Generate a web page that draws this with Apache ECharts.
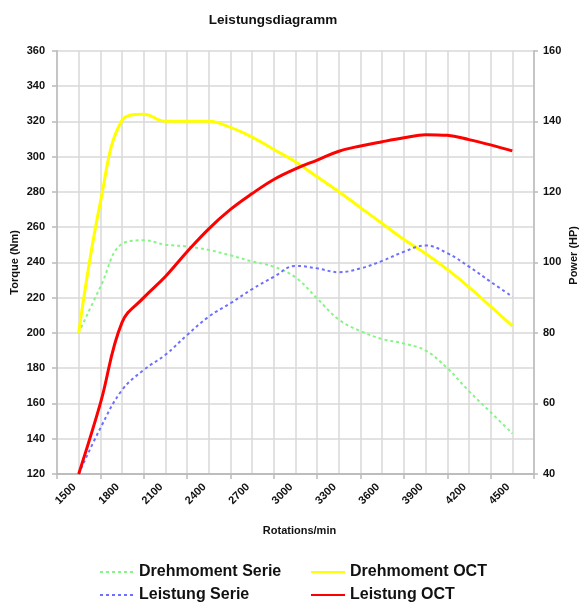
<!DOCTYPE html>
<html>
<head>
<meta charset="utf-8">
<script src="https://cdn.jsdelivr.net/npm/echarts@6/dist/echarts.min.js"></script>
<style>html,body{margin:0;padding:0;background:#fff}#c{width:579px;height:605px}</style>
</head>
<body>
<div id="c"></div>
<script>
var rpm = [1500,1650,1800,1950,2100,2250,2400,2550,2700,2850,3000,3150,3300,3450,3600,3750,3900,4050,4200,4350,4500];
var torqueSerie = [200,226,250.5,252.5,250,249,247,244,240.5,237.5,231.5,219.5,207.5,201,196.5,194,190,180,167,155,143];
var torqueOct   = [200,274,320.5,324,320,320,320,316.5,311,304,297,288.5,280,271,262,253,245,236,226,215,204];
var powerSerie  = [40,53,63.8,69.5,73.8,79.4,84.6,88.4,92.4,95.9,99,98.3,97.2,98.3,100.4,103,104.8,102.6,98.8,94.5,90.3];
var powerOct    = [40,60,83,90,96,103,109.5,115,119.5,123.5,126.5,129,131.5,133,134.2,135.3,136.2,136,134.8,133.3,131.6];
var xTickLabels = [1500,1800,2100,2400,2700,3000,3300,3600,3900,4200,4500];
var torqueTicks = {min:120, max:360, step:20};
var powerTicks  = {min:40, max:160, step:20};

function pairs(xs, ys){ return xs.map(function(x,i){ return [x, ys[i]]; }); }

var font = '"Liberation Sans", Arial, sans-serif';
var gridColor = '#d9d9d9';
var legendBase = {orient:'vertical', top:564, padding:0, height:41,
  itemWidth:34, itemHeight:16, itemGap:7,
  itemStyle:{opacity:0},
  textStyle:{fontFamily:font, fontSize:16, lineHeight:16, fontWeight:'bold', color:'#111'}};
var chart = echarts.init(document.getElementById('c'), null, {renderer:'canvas'});
chart.setOption({
  animation:false,
  backgroundColor:'#ffffff',
  title:{text:'Leistungsdiagramm', left:268, top:8, textAlign:'center',
    textStyle:{fontFamily:font, fontSize:13.5, fontWeight:'bold', color:'#111'}},
  grid:{left:57, right:45, top:50.7, bottom:131, containLabel:false, outerBoundsMode:'none'},
  legend:[
    Object.assign({data:['Drehmoment Serie','Leistung Serie'], left:99}, legendBase),
    Object.assign({data:['Drehmoment OCT','Leistung OCT'], left:310}, legendBase)
  ],
  xAxis:[
    {type:'value', min:1350, max:4650, interval:150, position:'bottom',
     name:'Rotations/min', nameLocation:'middle', nameGap:51, nameMoveOverlap:false,
     nameTextStyle:{fontFamily:font, fontSize:11, fontWeight:'bold', color:'#111', padding:[0,0,0,8]},
     axisLine:{show:true, lineStyle:{color:'#bbbbbb', width:1.5}},
     axisTick:{show:false},
     axisLabel:{rotate:45, margin:7, fontFamily:font, fontSize:11, fontWeight:'bold', color:'#111',
       padding:[0,6,0,0],
       formatter:function(v){ return xTickLabels.indexOf(v) >= 0 ? String(v) : ''; }},
     splitLine:{show:true, lineStyle:{color:gridColor, width:1.5}}},
    {type:'value', min:0, max:22, interval:2, position:'bottom',
     axisLine:{show:true, lineStyle:{color:'#bbbbbb', width:1.5}},
     axisTick:{show:true, length:5, lineStyle:{color:'#bbbbbb', width:1.5}},
     axisLabel:{show:false}, splitLine:{show:false}}
  ],
  yAxis:[
    {type:'value', min:torqueTicks.min, max:torqueTicks.max, interval:torqueTicks.step, position:'left',
     name:'Torque (Nm)', nameLocation:'middle', nameRotate:90, nameGap:37, nameMoveOverlap:false,
     nameTextStyle:{fontFamily:font, fontSize:11, fontWeight:'bold', color:'#111'},
     axisLine:{show:true, lineStyle:{color:'#bbbbbb', width:1.5}},
     axisTick:{show:true, length:5, lineStyle:{color:'#bbbbbb', width:1.5}},
     axisLabel:{margin:12, fontFamily:font, fontSize:11, fontWeight:'bold', color:'#111'},
     splitLine:{show:true, lineStyle:{color:gridColor, width:1.5}}},
    {type:'value', min:powerTicks.min, max:powerTicks.max, interval:powerTicks.step, position:'right',
     name:'Power (HP)', nameLocation:'middle', nameRotate:90, nameGap:34, nameMoveOverlap:false,
     nameTextStyle:{fontFamily:font, fontSize:11, fontWeight:'bold', color:'#111', padding:[0,0,0,14]},
     axisLine:{show:true, lineStyle:{color:'#bbbbbb', width:1.5}},
     axisTick:{show:true, length:4, lineStyle:{color:'#bbbbbb', width:1.5}},
     axisLabel:{margin:9, fontFamily:font, fontSize:11, fontWeight:'bold', color:'#111'},
     splitLine:{show:false}}
  ],
  series:[
    {name:'Drehmoment Serie', type:'line', xAxisIndex:0, yAxisIndex:0, data:pairs(rpm, torqueSerie),
     smooth:0.4, symbol:'none', color:'#86f586',
     lineStyle:{color:'#86f586', width:2, type:[3,3]}},
    {name:'Drehmoment OCT', type:'line', xAxisIndex:0, yAxisIndex:0, data:pairs(rpm, torqueOct),
     smooth:0.4, symbol:'none', color:'#ffff00',
     lineStyle:{color:'#ffff00', width:3}},
    {name:'Leistung Serie', type:'line', xAxisIndex:0, yAxisIndex:1, data:pairs(rpm, powerSerie),
     smooth:0.4, symbol:'none', color:'#6f6fff',
     lineStyle:{color:'#6f6fff', width:2, type:[3,3]}},
    {name:'Leistung OCT', type:'line', xAxisIndex:0, yAxisIndex:1, data:pairs(rpm, powerOct),
     smooth:0.4, symbol:'none', color:'#ff0000',
     lineStyle:{color:'#ff0000', width:3}}
  ]
});
</script>
</body>
</html>
